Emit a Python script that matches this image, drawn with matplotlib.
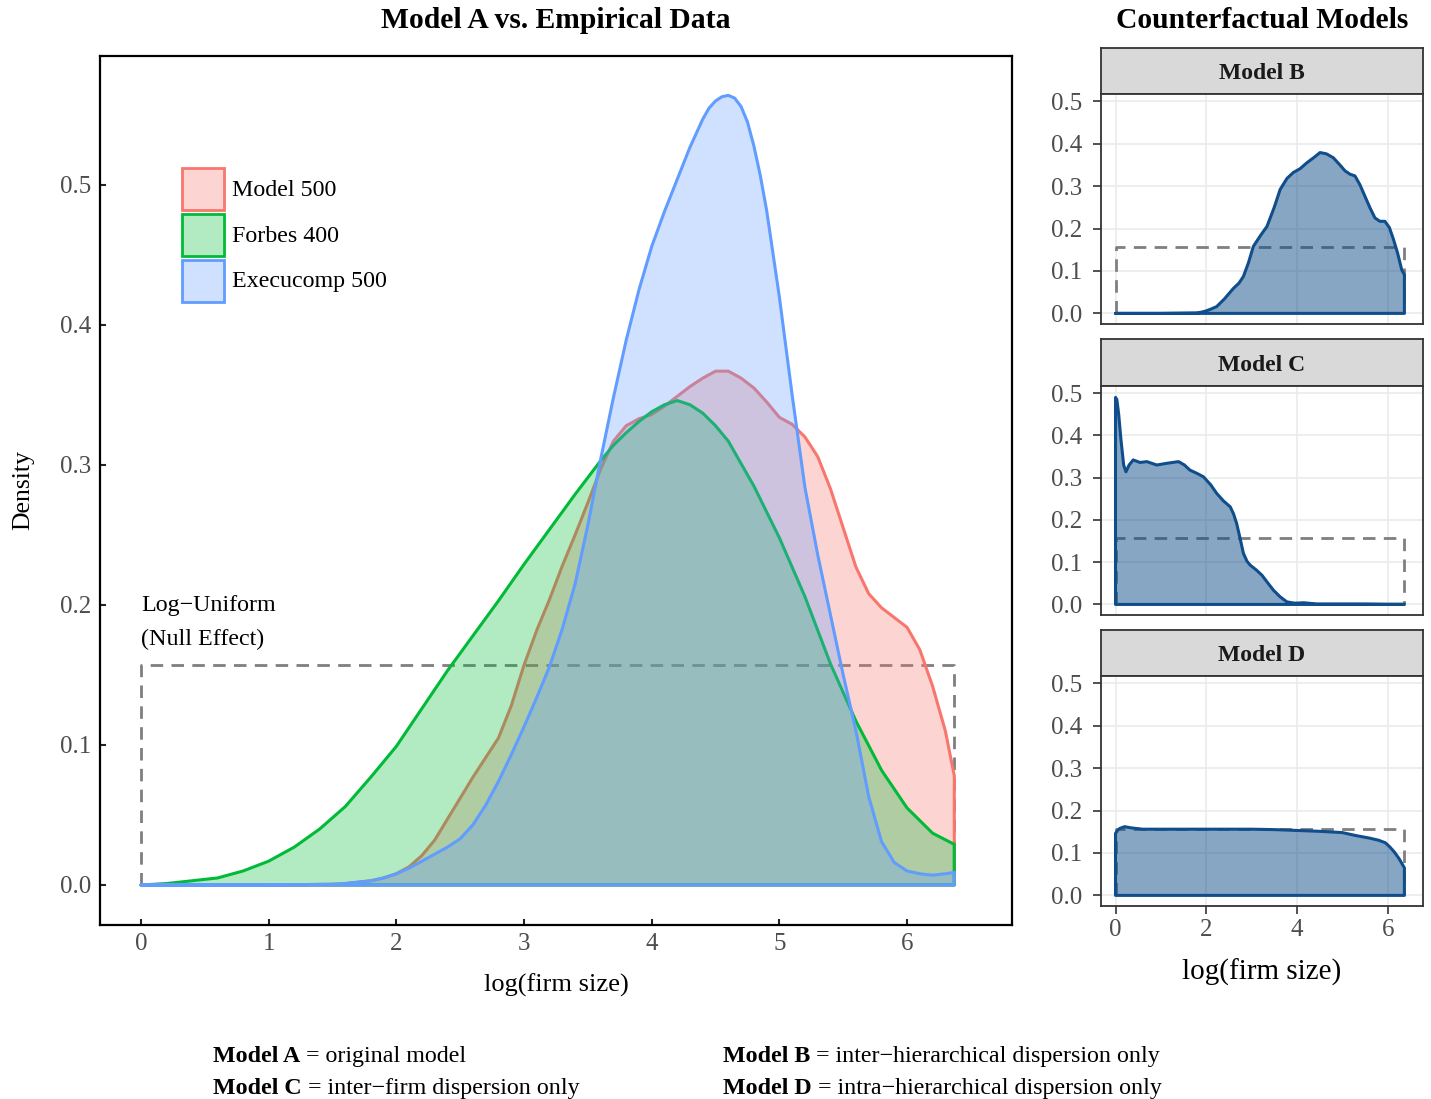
import numpy as np
import matplotlib
matplotlib.use("Agg")
import matplotlib.pyplot as plt
from matplotlib.colors import to_rgba
from matplotlib.patches import Rectangle

plt.rcParams['font.family'] = ['Liberation Serif', 'DejaVu Serif']

# ---- data: kernel density estimates of log(firm size) ----
x_max = 6.37
uniform_density = 1 / x_max

# Model A ("Model 500")
model_x = [0, 1.0, 1.5, 1.6, 1.7, 1.8, 1.9, 2.0, 2.1, 2.2, 2.3, 2.4, 2.5, 2.6, 2.7,
           2.8, 2.9, 3.0, 3.1, 3.2, 3.3, 3.4, 3.5, 3.6, 3.7, 3.8, 3.9, 4.0, 4.1,
           4.2, 4.3, 4.4, 4.5, 4.6, 4.7, 4.8, 4.9, 5.0, 5.1, 5.2, 5.3, 5.4, 5.5,
           5.6, 5.7, 5.8, 5.9, 6.0, 6.1, 6.2, 6.3, 6.37]
model_y = [0, 0, 0.0005, 0.001, 0.002, 0.003, 0.005, 0.008, 0.013, 0.021, 0.032,
           0.047, 0.062, 0.077, 0.091, 0.105, 0.128, 0.157, 0.182, 0.204, 0.228,
           0.250, 0.273, 0.297, 0.317, 0.328, 0.333, 0.336, 0.342, 0.349, 0.356,
           0.362, 0.367, 0.367, 0.362, 0.355, 0.345, 0.334, 0.329, 0.320, 0.306,
           0.283, 0.255, 0.227, 0.208, 0.198, 0.191, 0.184, 0.168, 0.142, 0.110, 0.078]

# Forbes 400
forbes_x = [0, 0.2, 0.4, 0.6, 0.8, 1.0, 1.2, 1.4, 1.6, 1.8, 2.0, 2.2, 2.4, 2.6, 2.8,
            3.0, 3.2, 3.4, 3.6, 3.7, 3.8, 3.9, 4.0, 4.1, 4.2, 4.3, 4.4, 4.5, 4.6,
            4.8, 5.0, 5.2, 5.4, 5.6, 5.8, 6.0, 6.2, 6.37]
forbes_y = [0, 0.001, 0.003, 0.005, 0.010, 0.017, 0.027, 0.040, 0.056, 0.077, 0.099,
            0.126, 0.153, 0.178, 0.203, 0.229, 0.254, 0.279, 0.303, 0.314, 0.323,
            0.331, 0.338, 0.343, 0.346, 0.343, 0.337, 0.328, 0.317, 0.285, 0.248,
            0.206, 0.158, 0.117, 0.082, 0.055, 0.037, 0.029]

# Execucomp 500
execu_x = [0, 1.0, 1.5, 1.6, 1.7, 1.8, 1.9, 2.0, 2.1, 2.2, 2.3, 2.4, 2.5, 2.6, 2.7,
           2.8, 2.9, 3.0, 3.1, 3.2, 3.3, 3.4, 3.5, 3.6, 3.7, 3.8, 3.9, 4.0, 4.1,
           4.2, 4.3, 4.4, 4.45, 4.5, 4.55, 4.6, 4.65, 4.7, 4.75, 4.8, 4.85, 4.9,
           5.0, 5.1, 5.2, 5.3, 5.4, 5.5, 5.6, 5.7, 5.8, 5.9, 6.0, 6.1, 6.2, 6.3, 6.37]
execu_y = [0, 0, 0.0005, 0.001, 0.002, 0.003, 0.005, 0.008, 0.012, 0.017, 0.022,
           0.027, 0.033, 0.043, 0.057, 0.074, 0.093, 0.113, 0.134, 0.156, 0.183,
           0.215, 0.257, 0.304, 0.348, 0.389, 0.425, 0.456, 0.481, 0.504, 0.527,
           0.547, 0.555, 0.560, 0.563, 0.564, 0.562, 0.556, 0.545, 0.528, 0.507,
           0.482, 0.420, 0.350, 0.284, 0.236, 0.193, 0.150, 0.110, 0.063, 0.031,
           0.016, 0.010, 0.008, 0.007, 0.008, 0.009]

# Counterfactual models
b_x = [0, 1.0, 1.79, 1.9, 2.0, 2.1, 2.23, 2.4, 2.6, 2.72, 2.82, 2.93, 3.04, 3.2,
       3.34, 3.5, 3.63, 3.78, 3.92, 4.07, 4.22, 4.37, 4.51, 4.65, 4.8, 4.93, 5.06,
       5.17, 5.28, 5.39, 5.5, 5.61, 5.72, 5.83, 5.94, 6.04, 6.13, 6.22, 6.31, 6.37]
b_y = [0, 0, 0.001, 0.003, 0.006, 0.010, 0.016, 0.034, 0.059, 0.071, 0.087, 0.119,
       0.158, 0.184, 0.205, 0.250, 0.292, 0.318, 0.332, 0.341, 0.355, 0.367, 0.379,
       0.376, 0.367, 0.352, 0.336, 0.328, 0.324, 0.303, 0.276, 0.249, 0.225, 0.217,
       0.217, 0.202, 0.174, 0.142, 0.103, 0.091]

c_x = [0, 0.03, 0.07, 0.12, 0.18, 0.23, 0.3, 0.39, 0.54, 0.69, 0.91, 1.13, 1.39,
       1.52, 1.64, 1.8, 1.94, 2.1, 2.23, 2.38, 2.53, 2.6, 2.67, 2.75, 2.82, 2.9,
       2.97, 3.1, 3.23, 3.35, 3.48, 3.63, 3.78, 3.95, 4.15, 4.44, 5.0, 5.5, 6.0, 6.37]
c_y = [0.49, 0.485, 0.45, 0.39, 0.33, 0.314, 0.330, 0.342, 0.336, 0.338, 0.330, 0.334,
       0.338, 0.330, 0.318, 0.310, 0.302, 0.283, 0.263, 0.245, 0.231, 0.215, 0.192,
       0.155, 0.121, 0.102, 0.093, 0.082, 0.069, 0.052, 0.034, 0.018, 0.006, 0.003,
       0.004, 0.001, 0.001, 0.001, 0.0005, 0.0005]

d_x = [0, 0.05, 0.1, 0.2, 0.35, 0.6, 1.0, 2.0, 3.0, 3.5, 4.0, 4.5, 5.0, 5.3, 5.6,
       5.8, 5.95, 6.05, 6.15, 6.25, 6.37]
d_y = [0.146, 0.154, 0.158, 0.162, 0.159, 0.156, 0.156, 0.156, 0.156, 0.155, 0.153,
       0.151, 0.148, 0.141, 0.135, 0.130, 0.124, 0.114, 0.102, 0.087, 0.065]

series = [("Model 500", model_x, model_y, "#F8766D"),
          ("Forbes 400", forbes_x, forbes_y, "#00BA38"),
          ("Execucomp 500", execu_x, execu_y, "#619CFF")]
panels = [("Model B", b_x, b_y), ("Model C", c_x, c_y), ("Model D", d_x, d_y)]

captions = [("Model A", "original model"),
            ("Model B", "inter\u2212hierarchical dispersion only"),
            ("Model C", "inter\u2212firm dispersion only"),
            ("Model D", "intra\u2212hierarchical dispersion only")]

tick_col = "#4D4D4D"
dash_col = "#7F7F7F"


def closed(xs, ys):
    # density polygon closed down to the baseline at both ends
    return [xs[0]] + list(xs) + [xs[-1]], [0] + list(ys) + [0]


def uniform_box(ax):
    ax.plot([0, 0, x_max, x_max], [0, uniform_density, uniform_density, 0],
            color=dash_col, lw=2, dashes=(4.5, 3), zorder=1)


W, H = 1431, 1099
fig = plt.figure(figsize=(W / 100, H / 100), dpi=100)


def px_axes(left, top, right, bottom):
    return fig.add_axes([left / W, 1 - bottom / H, (right - left) / W, (bottom - top) / H])


# ---- main panel ----
ax = px_axes(100, 56, 1012, 925)
uniform_box(ax)
for name, xs, ys, col in series:
    px, py = closed(xs, ys)
    ax.fill(px, py, facecolor=to_rgba(col, 0.3), edgecolor=col, lw=2.2,
            joinstyle='round', zorder=2)

ax.set_xlim(-0.321, 6.822)
ax.set_ylim(-0.0286, 0.5921)
ax.set_xticks(range(7))
ax.set_yticks(np.arange(0, 0.51, 0.1))
ax.set_yticklabels([f"{v:.1f}" for v in np.arange(0, 0.51, 0.1)])
ax.tick_params(direction='in', length=4, width=1.5, color="#222222",
               labelsize=18, labelcolor=tick_col, pad=6)
for s in ax.spines.values():
    s.set_linewidth(1.6)
    s.set_color("black")

ax.set_xlabel("log(firm size)", fontsize=19, va='center')
ax.xaxis.set_label_coords(0.5, (925 - 985) / 869)
ax.set_ylabel("Density", fontsize=18.5, va='center')
ax.yaxis.set_label_coords((23 - 100) / 912, 0.5)

ax.text(0, 0.1875, "Log\u2212Uniform\n(Null Effect)", fontsize=17.3, va='center',
        ha='left', linespacing=1.75)

# legend keys
for k, (name, _, _, col) in enumerate(series):
    top = 168 + 46 * k
    y0 = 1 - (top + 42 - 56) / 869
    ax.add_patch(Rectangle(((182 - 100) / 912, y0), 42 / 912, 42 / 869,
                           transform=ax.transAxes, facecolor=to_rgba(col, 0.3),
                           edgecolor=col, lw=2, zorder=5))
    ax.text((232 - 100) / 912, 1 - (top + 22 - 56) / 869, name, transform=ax.transAxes,
            fontsize=17.3, va='center', ha='left', zorder=5)

fig.text(556 / W, 1 - 20 / H, "Model A vs. Empirical Data", fontsize=21.3,
         fontweight='bold', ha='center', va='center')

# ---- counterfactual panels ----
strip_tops = [48, 339, 630]
panel_rows = [(94, 324), (386, 615), (676, 906)]
for i, (title, xs, ys) in enumerate(panels):
    top, bottom = panel_rows[i]
    sx = px_axes(1101, strip_tops[i], 1423, top)
    sx.set_facecolor("#D9D9D9")
    sx.set_xticks([])
    sx.set_yticks([])
    for s in sx.spines.values():
        s.set_color("#333333")
        s.set_linewidth(1.3)
    sx.text(0.5, 0.44, title, transform=sx.transAxes, ha='center', va='center',
            fontsize=17, fontweight='bold', color="#1A1A1A")

    pa = px_axes(1101, top, 1423, bottom)
    pa.set_axisbelow(True)
    pa.grid(True, color="#EBEBEB", lw=1.2)
    uniform_box(pa)
    px, py = closed(xs, ys)
    pa.fill(px, py, facecolor=to_rgba("#104E8B", 0.5), edgecolor="#104E8B", lw=2.2,
            joinstyle='round', zorder=2)
    pa.set_xlim(-0.32, 6.78)
    pa.set_ylim(-0.025, 0.517)
    pa.set_xticks([0, 2, 4, 6])
    pa.set_yticks(np.arange(0, 0.51, 0.1))
    pa.set_yticklabels([f"{v:.1f}" for v in np.arange(0, 0.51, 0.1)])
    pa.tick_params(direction='out', length=5.5, width=1.2, color="#333333",
                   labelsize=18, labelcolor=tick_col)
    pa.tick_params(axis='y', pad=8)
    pa.tick_params(axis='x', pad=4)
    for s in pa.spines.values():
        s.set_color("#333333")
        s.set_linewidth(1.3)
    if i < 2:
        pa.tick_params(axis='x', labelbottom=False, length=0)
    else:
        pa.set_xlabel("log(firm size)", fontsize=21, va='center')
        pa.xaxis.set_label_coords(0.5, (906 - 972) / 230)

fig.text(1262 / W, 1 - 20 / H, "Counterfactual Models", fontsize=21.3,
         fontweight='bold', ha='center', va='center')

# ---- model key below the panels ----
key_pos = [(213, 1062), (723, 1062), (213, 1094), (723, 1094)]
for (cx, cy), (bold, rest) in zip(key_pos, captions):
    t = fig.text(cx / W, 1 - cy / H, bold, fontsize=17.3, fontweight='bold',
                 ha='left', va='baseline')
    fig.add_artist(matplotlib.text.Annotation(" = " + rest, xy=(1, 0), xycoords=t,
                                              fontsize=17.3, ha='left', va='bottom'))

fig.savefig("out.png", dpi=100)
